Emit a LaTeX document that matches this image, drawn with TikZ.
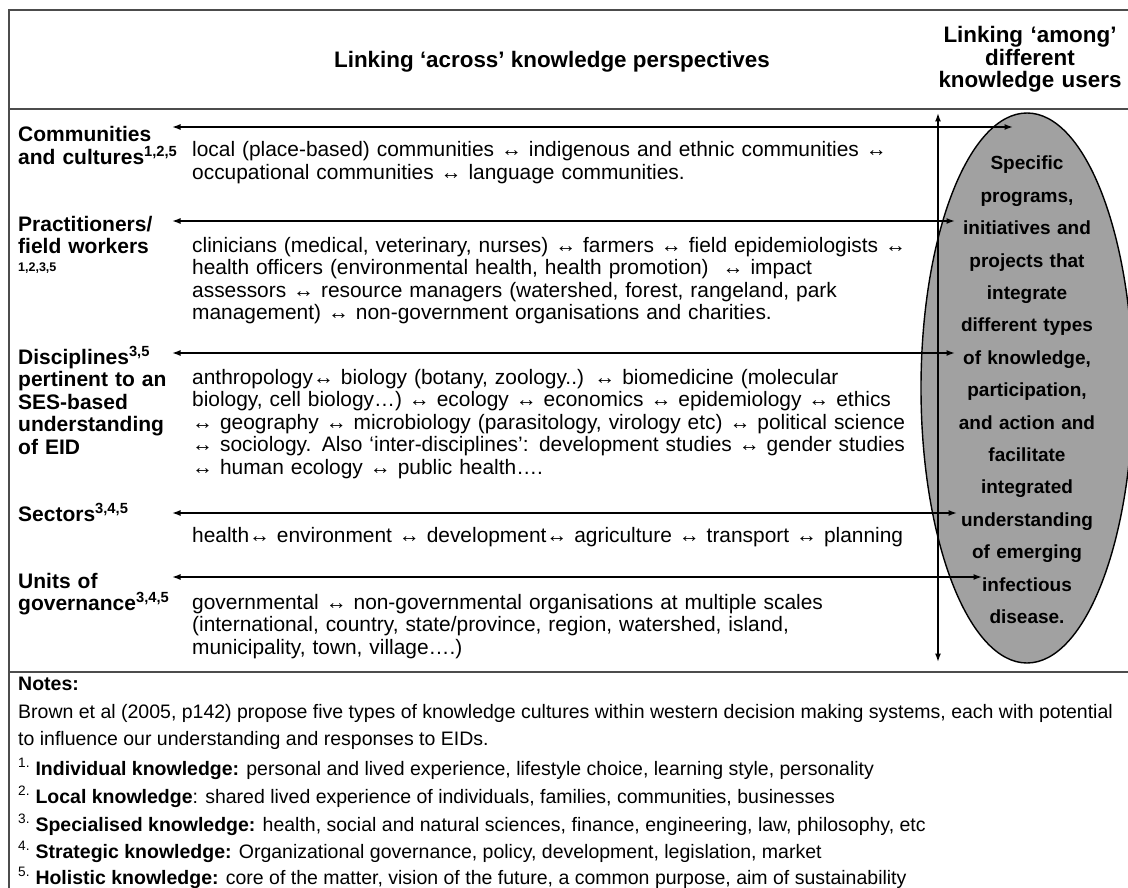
\documentclass[tikz,border=0pt]{standalone}
\usepackage{fontspec}
\setmainfont{Liberation Sans}
\usetikzlibrary{arrows.meta,shapes.geometric}
\begin{document}
\begin{tikzpicture}[x=1pt,y=-1pt,
  lbl/.style={anchor=base west, inner sep=0pt, text width=175pt, align=left, font=\bfseries\fontsize{21}{22.5}\selectfont},
  body/.style={anchor=base west, inner sep=0pt, text width=900pt, align=left, font=\fontsize{20.9}{22.5}\selectfont},
  note/.style={anchor=base west, inner sep=0pt, font=\fontsize{19.5}{22}\selectfont},
  hdr/.style={inner sep=0pt, font=\bfseries\fontsize{22.4}{22.5}\selectfont},
  arr/.style={{Latex[length=8.5pt,width=6pt]}-{Latex[length=8.5pt,width=6pt]}, line width=1.5pt},
  rule/.style={draw=black!70, line width=2pt},
]
\useasboundingbox (0,0) rectangle (1128,888);
\clip (0,0) rectangle (1128,888);
\fill[white] (0,0) rectangle (1128,888);
% frame
\draw[rule] (9,960) -- (9,10) -- (1200,10);
\draw[rule, line width=1.6pt] (9,109) -- (1200,109);
\draw[rule, line width=2.8pt] (9,672) -- (1200,672);
% headers
\node[hdr, anchor=base] (h1) at (552,68) {Linking ‘across’ knowledge perspectives};
\node[hdr, anchor=base, text width=220pt, align=center] (h2) at (1030,43) {Linking ‘among’\\ different\\ knowledge users};
% ellipse
\node[name=E, ellipse, draw=black, line width=1.4pt, fill=black!37, minimum width=212pt, minimum height=550pt, inner sep=0pt] at (1027,388) {};
% vertical arrow
\coordinate (vt) at (938,113);
\coordinate (vb) at (938,662);
\draw[arr] (vt) -- (vb);
% horizontal arrows
\coordinate (a1l) at (172,127); \coordinate (a1r) at (1013,127);
\coordinate (a2l) at (172,221); \coordinate (a2r) at (955,221);
\coordinate (a3l) at (172,353); \coordinate (a3r) at (955,353);
\coordinate (a4l) at (172,513); \coordinate (a4r) at (957,513);
\coordinate (a5l) at (172,577); \coordinate (a5r) at (982,577);
\draw[arr] (a1l) -- (a1r);
\draw[arr] (a2l) -- (a2r);
\draw[arr] (a3l) -- (a3r);
\draw[arr] (a4l) -- (a4r);
\draw[arr] (a5l) -- (a5r);
% ellipse text
\node[name=ET, anchor=base, inner sep=0pt, text width=220pt, align=center, font=\bfseries\fontsize{19}{32.4}\selectfont] at (1027,170)
 {Specific\\ programs,\\ initiatives and\\ projects that\\ integrate\\ different types\\ of knowledge,\\ participation,\\ and action and\\ facilitate\\ integrated\\ understanding\\ of emerging\\ infectious\\ disease.};
% labels
\node[lbl] (l1) at (18,142) {Communities\\ and cultures\textsuperscript{1,2,5}};
\node[lbl] (l2) at (18,231) {Practitioners/\\ field workers};
\node[anchor=base west, inner sep=0pt, font=\bfseries\fontsize{12.5}{13}\selectfont] (l2s) at (18,271) {1,2,3,5};
\node[lbl] (l3) at (18,364) {Disciplines\textsuperscript{3,5}\\ pertinent to an\\ SES-based\\ understanding\\ of EID};
\node[lbl] (l4) at (18,521) {Sectors\textsuperscript{3,4,5}};
\node[lbl] (l5) at (18,588) {Units of\\ governance\textsuperscript{3,4,5}};
% bodies
\node[body] (b1) at (192,157) {local (place-based) communities ↔ indigenous and ethnic communities ↔\\ occupational communities ↔ language communities.};
\node[body] (b2) at (192,252) {clinicians (medical, veterinary, nurses) ↔ farmers ↔ field epidemiologists ↔\\ health officers (environmental health, health promotion) \ ↔ impact\\ assessors ↔ resource managers (watershed, forest, rangeland, park\\ management) ↔ non-government organisations and charities.};
\node[body] (b3) at (192,384) {anthropology↔ biology (botany, zoology..) ↔ biomedicine (molecular\\ biology, cell biology…) ↔ ecology ↔ economics ↔ epidemiology ↔ ethics\\ ↔ geography ↔ microbiology (parasitology, virology etc) ↔ political science\\ ↔ sociology. Also ‘inter-disciplines’: development studies ↔ gender studies\\ ↔ human ecology ↔ public health….};
\node[body] (b4) at (192,542) {health↔ environment ↔ development↔ agriculture ↔ transport ↔ planning};
\node[body] (b5) at (192,609) {governmental ↔ non-governmental organisations at multiple scales\\ (international, country, state/province, region, watershed, island,\\ municipality, town, village….)};
% notes
\node[note, font=\bfseries\fontsize{19.5}{22}\selectfont] (n0) at (18,690) {Notes:};
\node[note] (n1) at (18,718) {Brown et al (2005, p142) propose five types of knowledge cultures within western decision making systems, each with potential};
\node[note] (n2) at (18,745) {to influence our understanding and responses to EIDs.};
\node[note] (n3) at (18,775) {\textsuperscript{1.} \textbf{Individual knowledge:} personal and lived experience, lifestyle choice, learning style, personality};
\node[note] (n4) at (18,803) {\textsuperscript{2.} \textbf{Local knowledge}: shared lived experience of individuals, families, communities, businesses};
\node[note] (n5) at (18,831) {\textsuperscript{3.} \textbf{Specialised knowledge:} health, social and natural sciences, finance, engineering, law, philosophy, etc};
\node[note] (n6) at (18,858) {\textsuperscript{4.} \textbf{Strategic knowledge:} Organizational governance, policy, development, legislation, market};
\node[note] (n7) at (18,884) {\textsuperscript{5.} \textbf{Holistic knowledge:} core of the matter, vision of the future, a common purpose, aim of sustainability};
\end{tikzpicture}
\end{document}
